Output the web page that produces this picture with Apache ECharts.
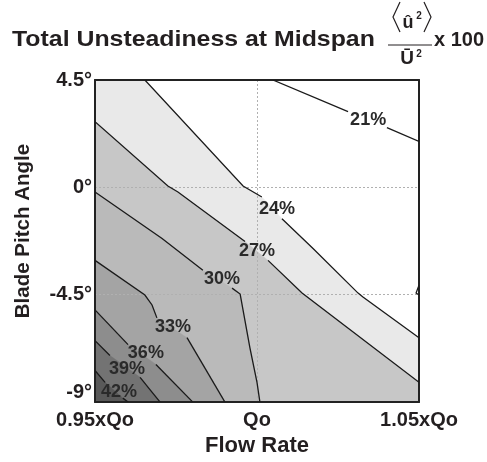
<!DOCTYPE html>
<html><head><meta charset="utf-8">
<script src="https://cdn.jsdelivr.net/npm/echarts@6/dist/echarts.min.js"></script>
<style>html,body{margin:0;padding:0;background:#fff}#c{width:487px;height:462px}</style>
</head><body><div id="c"></div>
<script>
// Axis ticks (flow rate as % of Qo, pitch angle in degrees)
const xTickValues = [95, 100, 105];
const xTickLabels = ['0.95xQo', 'Qo', '1.05xQo'];
const yTickValues = [-9, -4.5, 0, 4.5];
const yTickLabels = ['-9°', '-4.5°', '0°', '4.5°'];

// Contour levels and their labels
const levelLabels = ['21%', '24%', '27%', '30%', '33%', '36%', '39%', '42%'];
// Contour lines [flow %, pitch deg]; each line is split where its label sits
const line21 = [[[100.49, 4.5], [102.81, 3.171]], [[104.01, 2.506], [105, 1.925]]];
const line24 = [[[96.54, 4.5], [99.57, 0.055], [100.15, -0.402]], [[100.77, -1.315], [101.73, -2.562], [103.12, -4.431], [103.27, -4.597], [105, -6.3]]];
const line27 = [[[95, 2.755], [97.25, 0.055], [97.56, -0.194], [99.63, -2.271]], [[100.34, -3.06], [101.39, -4.431], [105, -8.17]]];
const line30 = [[[95, -0.194], [97.07, -2.146], [98.33, -3.476]], [[99.23, -4.223], [99.48, -4.473], [99.78, -6.716], [100.0, -8.17], [100.09, -9]]];
const line33 = [[[95, -3.06], [96.54, -4.514], [96.76, -4.929], [96.91, -5.47]], [[97.84, -6.3], [99.01, -9]]];
const line36 = [[[95, -5.137], [96.02, -6.591]], [[96.88, -7.422], [98.02, -9]]];
const line39 = [[[95, -6.425], [95.46, -7.048]], [[96.39, -7.962], [97.01, -9]]];
const line42 = [[[95, -7.671], [95.31, -8.17]], [[95.86, -8.834], [96.02, -9]]];
const edgeNotch = [[105, -4.099], [104.91, -4.431], [105, -4.514]];
// label anchor for each contour level
const labelAt = [[103.43, 2.838], [100.62, -0.9], [100.0, -2.687], [98.92, -3.85], [97.41, -5.843], [96.57, -6.923], [95.99, -7.629], [95.74, -8.585]];

const contourLines = [line21, line24, line27, line30, line33, line36, line39, line42];
const bandColors = ['#ffffff', '#e9e9e9', '#c7c7c7', '#bababa', '#a4a4a4', '#8d8d8d', '#737373', '#595959'];

const X_MIN = 95, X_MAX = 105, Y_MIN = -9, Y_MAX = 4.5;
const corners = [[X_MIN, Y_MAX], [X_MAX, Y_MAX], [X_MAX, Y_MIN], [X_MIN, Y_MIN]];
function boundaryT(p) {
  const x = p[0], y = p[1], e = 1e-6;
  if (Math.abs(y - Y_MAX) < e) return (x - X_MIN) / (X_MAX - X_MIN);
  if (Math.abs(x - X_MAX) < e) return 1 + (Y_MAX - y) / (Y_MAX - Y_MIN);
  if (Math.abs(y - Y_MIN) < e) return 2 + (X_MAX - x) / (X_MAX - X_MIN);
  return 3 + (y - Y_MIN) / (Y_MAX - Y_MIN);
}
// region on the high-value side of each line (lower-left), closed along the frame
const fillPolys = contourLines.map(segs => {
  const pts = [].concat(...segs);
  const ts = boundaryT(pts[0]);
  const te = boundaryT(pts[pts.length - 1]);
  const tsAdj = ts < te ? ts + 4 : ts;
  const poly = pts.slice();
  for (let k = Math.ceil(te + 1e-9); k <= Math.floor(tsAdj - 1e-9); k++) poly.push(corners[k % 4]);
  return poly;
});

const FONT = '"Liberation Sans", Arial, sans-serif';
const TXT = '#231f20';
const chart = echarts.init(document.getElementById('c'), null, {renderer: 'canvas'});
const frameLine = {show: true, onZero: false, lineStyle: {color: '#222', width: 2}};
const itemData = contourLines.map((l, i) => [l[0][0][0], l[0][0][1], i]);

chart.setOption({
  animation: false,
  backgroundColor: '#fff',
  grid: {left: 95, top: 80, width: 324, height: 325, containLabel: false},
  graphic: [
    {type: 'text', x: 12, y: 40, scaleX: 1.13, style: {text: 'Total Unsteadiness at Midspan', font: 'bold 22px ' + FONT, fill: TXT, verticalAlign: 'middle'}},
    {type: 'polyline', shape: {points: [[400, 2], [393, 17], [400, 32]]}, style: {stroke: TXT, lineWidth: 1.2, fill: null}},
    {type: 'polyline', shape: {points: [[424, 2], [431, 17], [424, 32]]}, style: {stroke: TXT, lineWidth: 1.2, fill: null}},
    {type: 'text', x: 408, y: 23, style: {text: 'û', font: 'bold 18px ' + FONT, fill: TXT, align: 'center', verticalAlign: 'middle'}},
    {type: 'text', x: 419, y: 16, style: {text: '2', font: 'bold 10px ' + FONT, fill: TXT, align: 'center', verticalAlign: 'middle'}},
    {type: 'line', shape: {x1: 388, y1: 45, x2: 432, y2: 45}, style: {stroke: TXT, lineWidth: 1}},
    {type: 'text', x: 407, y: 59, style: {text: 'Ū', font: 'bold 19px ' + FONT, fill: TXT, align: 'center', verticalAlign: 'middle'}},
    {type: 'text', x: 419, y: 54, style: {text: '2', font: 'bold 10px ' + FONT, fill: TXT, align: 'center', verticalAlign: 'middle'}},
    {type: 'text', x: 434, y: 40, style: {text: 'x 100', font: 'bold 20px ' + FONT, fill: TXT, verticalAlign: 'middle'}}
  ],
  xAxis: [{
    type: 'value', min: X_MIN, max: X_MAX, interval: 5, position: 'bottom', z: 5,
    axisLine: frameLine, axisTick: {show: false},
    splitLine: {show: true, lineStyle: {type: [2, 2], color: '#b0b0b0', width: 1}},
    axisLabel: {formatter: v => xTickLabels[xTickValues.indexOf(v)], fontSize: 20, fontWeight: 'bold', fontFamily: FONT, color: TXT, margin: 8},
    name: 'Flow Rate', nameLocation: 'middle', nameGap: 32,
    nameTextStyle: {fontSize: 22, fontWeight: 'bold', fontFamily: FONT, color: TXT}
  }, {
    type: 'value', min: X_MIN, max: X_MAX, interval: 5, position: 'top', z: 5,
    axisLine: frameLine, axisTick: {show: false}, axisLabel: {show: false}, splitLine: {show: false}
  }],
  yAxis: [{
    type: 'value', min: Y_MIN, max: Y_MAX, interval: 4.5, position: 'left', z: 5,
    axisLine: frameLine, axisTick: {show: false},
    splitLine: {show: true, lineStyle: {type: [2, 2], color: '#b0b0b0', width: 1}},
    axisLabel: {formatter: v => yTickLabels[yTickValues.indexOf(v)], fontSize: 20, fontWeight: 'bold', fontFamily: FONT, color: TXT, margin: 3, verticalAlignMinLabel: 'bottom'},
    name: 'Blade Pitch Angle', nameLocation: 'middle', nameGap: 61,
    nameTextStyle: {fontSize: 20.5, fontWeight: 'bold', fontFamily: FONT, color: TXT, padding: [0, 0, 0, 20]}
  }, {
    type: 'value', min: Y_MIN, max: Y_MAX, interval: 4.5, position: 'right', z: 5,
    axisLine: frameLine, axisTick: {show: false}, axisLabel: {show: false}, splitLine: {show: false}
  }],
  series: [{
    type: 'custom', z: 2, clip: true, silent: true,
    data: itemData,
    renderItem: (params, api) => {
      const i = api.value(2);
      return {type: 'polygon', z2: i, shape: {points: fillPolys[i].map(p => api.coord(p))}, style: {fill: bandColors[i], stroke: bandColors[i], lineWidth: 0.5}};
    }
  }, {
    type: 'custom', z: 8, clip: true, silent: true,
    data: itemData,
    renderItem: (params, api) => {
      const i = api.value(2);
      const children = contourLines[i].map(seg => ({type: 'polyline', shape: {points: seg.map(p => api.coord(p))}, style: {stroke: '#1a1a1a', lineWidth: 1.3, fill: null}}));
      if (i === 0) children.push({type: 'polyline', shape: {points: edgeNotch.map(p => api.coord(p))}, style: {stroke: '#1a1a1a', lineWidth: 1.3, fill: null}});
      return {type: 'group', children};
    }
  }, {
    type: 'custom', z: 9, silent: true,
    data: itemData,
    renderItem: (params, api) => {
      const i = api.value(2);
      const c = api.coord(labelAt[i]);
      return {type: 'text', x: c[0], y: c[1], style: {text: levelLabels[i], font: 'bold 18px ' + FONT, fill: '#2a2a2a', align: 'center', verticalAlign: 'middle'}};
    }
  }]
});
</script></body></html>
